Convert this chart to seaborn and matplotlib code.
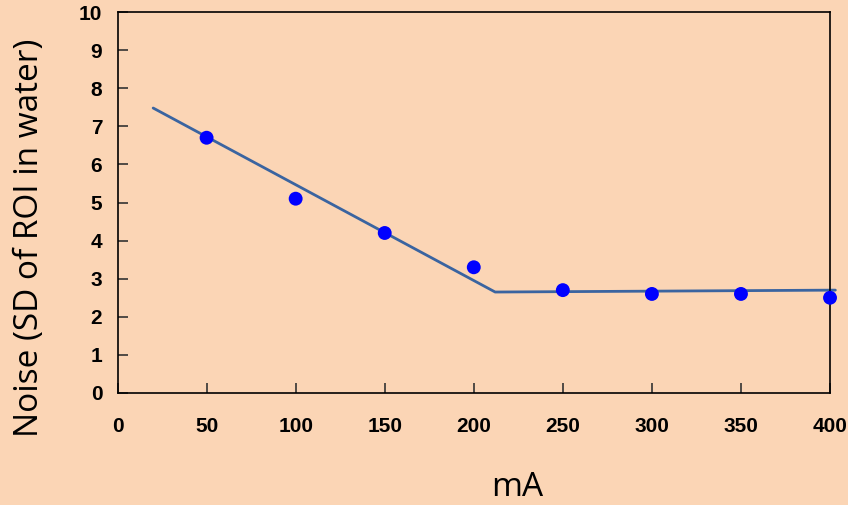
import matplotlib
matplotlib.use('Agg')
import matplotlib.pyplot as plt
import seaborn as sns
import pandas as pd

# measured points
ma_values = [50, 100, 150, 200, 250, 300, 350, 400]
noise_values = [6.7, 5.1, 4.2, 3.3, 2.7, 2.6, 2.6, 2.5]

# fitted two-segment line
fit_x = [20, 212, 403]
fit_y = [7.48, 2.65, 2.7]

x_ticks = [0, 50, 100, 150, 200, 250, 300, 350, 400]
y_ticks = list(range(0, 11))

bg = '#FBD5B5'

sns.set_style('ticks')
plt.rcParams['font.family'] = ['Open Sans', 'DejaVu Sans']
plt.rcParams['text.color'] = 'black'
plt.rcParams['axes.labelcolor'] = 'black'
plt.rcParams['xtick.color'] = 'black'
plt.rcParams['ytick.color'] = 'black'

fig = plt.figure(figsize=(8.48, 5.05), dpi=100, facecolor=bg)
ax = fig.add_axes([0.1386, 0.2218, 0.8402, 0.7544])
ax.set_facecolor(bg)

pts = pd.DataFrame({'mA': ma_values, 'noise': noise_values})
fit = pd.DataFrame({'mA': fit_x, 'noise': fit_y})

sns.lineplot(data=fit, x='mA', y='noise', ax=ax, color='#3A64A0', linewidth=2, clip_on=False, zorder=2)
sns.scatterplot(data=pts, x='mA', y='noise', ax=ax, color='#0000FF', s=100, edgecolor='none', clip_on=False, zorder=3)

ax.set_xlim(0, 400)
ax.set_ylim(0, 10)
ax.set_xticks(x_ticks)
ax.set_yticks(y_ticks)

tick_font = {'family': ['Liberation Sans', 'DejaVu Sans'], 'weight': 'bold', 'size': 15}
ax.set_xticklabels([str(t) for t in x_ticks], fontdict=tick_font)
ax.set_yticklabels([str(t) for t in y_ticks], fontdict=tick_font)
ax.tick_params(direction='in', length=7, width=1.2, color='#333333')
ax.tick_params(axis='x', pad=17)
ax.tick_params(axis='y', pad=11)

for s in ax.spines.values():
    s.set_color('black')
    s.set_linewidth(1.2)

ax.set_xlabel('mA', fontsize=24)
ax.set_ylabel('Noise (SD of ROI in water)', fontsize=24)
ax.xaxis.set_label_coords(0.561, -0.204)
ax.yaxis.set_label_coords(-0.10, 0.408)

fig.savefig('out.png', dpi=100, facecolor=bg)
